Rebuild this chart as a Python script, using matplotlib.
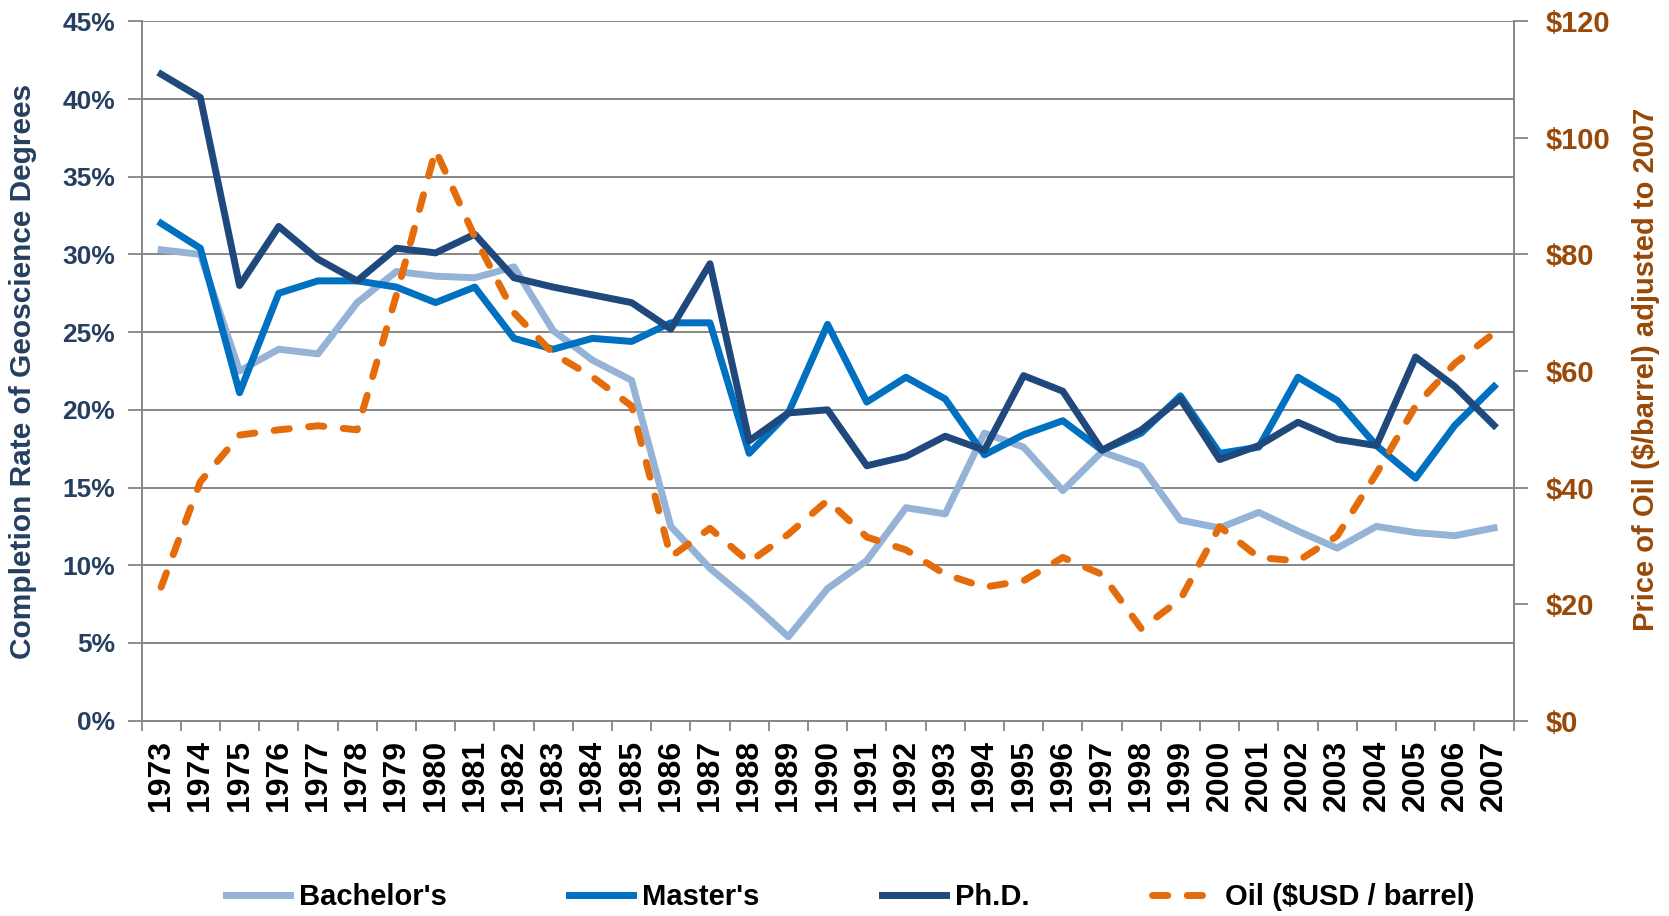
import matplotlib
matplotlib.use("Agg")
import matplotlib.pyplot as plt
from matplotlib.ticker import FixedLocator, FuncFormatter
import numpy as np

plt.rcParams["font.family"] = ["Liberation Sans", "DejaVu Sans"]
plt.rcParams["font.weight"] = "bold"

years = [str(y) for y in range(1973, 2008)]

bachelors = [30.3, 30.0, 22.5, 23.9, 23.6, 26.9, 28.9, 28.6, 28.5, 29.2, 25.1, 23.2,
             21.9, 12.5, 9.8, 7.7, 5.4, 8.5, 10.3, 13.7, 13.3, 18.5, 17.6, 14.8,
             17.3, 16.4, 12.9, 12.4, 13.4, 12.2, 11.1, 12.5, 12.1, 11.9, 12.4]
masters = [32.0, 30.4, 21.1, 27.5, 28.3, 28.3, 27.9, 26.9, 27.9, 24.6, 23.9, 24.6,
           24.4, 25.6, 25.6, 17.2, 19.8, 25.5, 20.5, 22.1, 20.7, 17.1, 18.4, 19.3,
           17.4, 18.5, 20.9, 17.2, 17.6, 22.1, 20.6, 17.7, 15.6, 19.0, 21.5]
phd = [41.6, 40.1, 28.0, 31.8, 29.7, 28.3, 30.4, 30.1, 31.3, 28.5, 27.9, 27.4,
       26.9, 25.2, 29.4, 18.0, 19.8, 20.0, 16.4, 17.0, 18.3, 17.4, 22.2, 21.2,
       17.4, 18.7, 20.7, 16.8, 17.7, 19.2, 18.1, 17.7, 23.4, 21.5, 19.0]
oil = [22.9, 41.0, 49.0, 49.9, 50.6, 49.9, 73.0, 97.9, 83.0, 70.0, 63.0, 59.0,
       54.0, 28.1, 33.0, 27.2, 32.0, 37.8, 31.5, 29.3, 25.1, 22.9, 24.0, 28.0,
       25.1, 15.8, 20.8, 33.3, 28.0, 27.4, 31.7, 42.4, 54.0, 61.3, 66.5]

NAVY = "#243F60"
BROWN = "#984807"
GRID = "#868686"

fig = plt.figure(figsize=(16.69, 9.16), dpi=100)
ax = fig.add_axes([0.0848, 0.2133, 0.8221, 0.7634])
ax2 = ax.twinx()

x = np.arange(len(years))
lw = 5.0
l1, = ax.plot(x, bachelors, color="#95B3D7", lw=lw, label="Bachelor's", zorder=3)
l2, = ax.plot(x, masters, color="#0070C0", lw=lw, label="Master's", zorder=4)
l3, = ax.plot(x, phd, color="#1F497D", lw=lw, label="Ph.D.", zorder=5)
l4, = ax2.plot(x, oil, color="#E46C0A", lw=lw, linestyle=(0, (2.2, 2.8)),
               dash_capstyle="round", label="Oil ($USD / barrel)", zorder=6)

# left axis
ax.set_xlim(-0.5, len(years) - 0.5)
ax.set_ylim(0, 45)
ax.yaxis.set_major_locator(FixedLocator(np.arange(0, 46, 5)))
ax.yaxis.set_major_formatter(FuncFormatter(lambda v, p: f"{v:.0f}%"))
ax.tick_params(axis="y", which="major", length=10, width=1.3, color=GRID,
               labelsize=19, labelcolor=NAVY, pad=9)
ax.grid(axis="y", color=GRID, linewidth=1.4)
ax.set_axisbelow(True)

# x axis: labels at points, tick marks between categories
ax.set_xticks(x)
ax.set_xticklabels(years, rotation=90, fontsize=23, color="black")
ax.set_xticks(np.arange(-0.5, len(years)), minor=True)
ax.tick_params(axis="x", which="major", length=0, pad=14)
ax.tick_params(axis="x", which="minor", length=7, width=1.3, color=GRID)

# right axis
ax2.set_ylim(0, 120)
ax2.yaxis.set_major_locator(FixedLocator(np.arange(0, 121, 20)))
ax2.yaxis.set_major_formatter(FuncFormatter(lambda v, p: f"${v:.0f}"))
ax2.tick_params(axis="y", length=10, width=1.3, color=GRID,
                labelsize=21, labelcolor=BROWN, pad=13)

for a in (ax, ax2):
    a.spines["top"].set_visible(False)
    for s in ("left", "right", "bottom"):
        a.spines[s].set_color(GRID)
        a.spines[s].set_linewidth(1.4)
ax.spines["right"].set_visible(False)
ax2.spines["left"].set_visible(False)
ax2.spines["bottom"].set_visible(False)

fig.text(22.6 / 1669, 1 - 371 / 916, "Completion Rate of Geoscience Degrees",
         rotation=90, ha="center", va="center", fontsize=21.5, color=NAVY)
fig.text(1646 / 1669, 1 - 369 / 916, "Price of Oil ($/barrel) adjusted to 2007",
         rotation=90, ha="center", va="center", fontsize=21, color=BROWN)

fig.legend(handles=[l1, l2, l3, l4], loc="center",
           bbox_to_anchor=(850 / 1669, 1 - 897 / 916), ncol=4, frameon=False,
           prop={"size": 21, "weight": "bold"}, handlelength=2.2,
           handletextpad=0.3, columnspacing=4.2)

fig.savefig("out.png", dpi=100)
